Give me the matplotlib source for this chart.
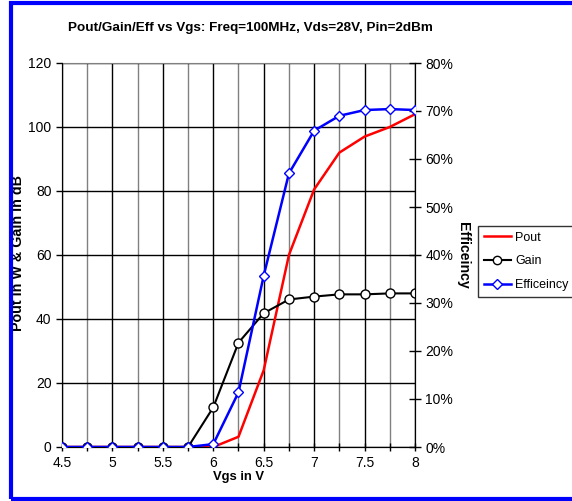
import numpy as np
import matplotlib.pyplot as plt
from matplotlib.patches import Rectangle
from matplotlib.lines import Line2D

plt.rcParams['font.family'] = ['Liberation Sans', 'DejaVu Sans']

vgs = [4.5, 4.75, 5.0, 5.25, 5.5, 5.75, 6.0, 6.25, 6.5, 6.75, 7.0, 7.25, 7.5, 7.75, 8.0]
pout = [0, 0, 0, 0, 0, 0, 0, 3.2, 24, 60, 80.5, 92, 97, 100, 104]
gain = [0, 0, 0, 0, 0, 0, 12.4, 32.6, 41.8, 46.1, 47.0, 47.7, 47.7, 48.0, 48.0]
eff = [0, 0, 0, 0, 0, 0, 0.006, 0.114, 0.357, 0.570, 0.659, 0.690, 0.702, 0.704, 0.702]

fig = plt.figure(figsize=(5.72, 5.01), dpi=100)
ax = fig.add_axes([62/572, 1-447/501, (415-62)/572, (447-63)/501])

ax.plot(vgs, pout, color='red', lw=1.8, label='Pout', zorder=3)
ax.plot(vgs, gain, color='black', lw=1.5, marker='o', ms=6.5, mfc='white', mec='black',
        mew=1.0, label='Gain', zorder=4)

ax.set_xlim(4.5, 8)
ax.set_ylim(0, 120)
ax.set_xticks(np.arange(4.5, 8.01, 0.5))
ax.set_xticklabels(['4.5', '5', '5.5', '6', '6.5', '7', '7.5', '8'])
ax.set_xticks(np.arange(4.5, 8.01, 0.25), minor=True)
ax.set_yticks(np.arange(0, 121, 20))
ax.grid(axis='y', color='black', lw=1.0)
ax.grid(axis='x', which='major', color='black', lw=1.0)
ax.grid(axis='x', which='minor', color='#808080', lw=1.0)
ax.tick_params(axis='both', which='both', labelsize=10, length=4, width=1, color='black')
ax.tick_params(axis='x', which='both', direction='inout', length=6)
ax.spines['top'].set_color('#808080')
ax.spines['left'].set_color('#555555')
ax.spines['bottom'].set_color('black')
ax.set_xlabel('Vgs in V', fontsize=9.4, fontweight='bold', labelpad=1)
ax.set_ylabel('Pout in W & Gain in dB', fontsize=10.3, fontweight='bold')
ax.yaxis.set_label_coords((25-62)/353, 1-(253-63)/384)

ax2 = ax.twinx()
ax2.plot(vgs, eff, color='blue', lw=1.8, marker='D', ms=5, mfc='white', mec='blue',
         mew=1.0, label='Efficeincy', zorder=5)
ax2.set_ylim(0, 0.8)
ax2.set_yticks(np.arange(0, 0.81, 0.1))
ax2.set_yticklabels([f'{int(round(v*100))}%' for v in np.arange(0, 0.81, 0.1)])
ax2.tick_params(axis='y', direction='inout', length=8, width=1, labelsize=10)
ax2.spines['right'].set_color('black')
ax2.spines['top'].set_visible(False)
ax2.set_ylabel('Efficeincy', fontsize=10.2, fontweight='bold', rotation=-90, va='center')
ax2.yaxis.set_label_coords((463-62)/353, 1-(255-63)/384)

fig.text(250/572, 1-28/501, 'Pout/Gain/Eff vs Vgs: Freq=100MHz, Vds=28V, Pin=2dBm',
         ha='center', va='center', fontsize=9.7, fontweight='bold')

handles = [Line2D([], [], color='red', lw=1.8),
           Line2D([], [], color='black', lw=1.5, marker='o', ms=6, mfc='white', mec='black'),
           Line2D([], [], color='blue', lw=1.8, marker='D', ms=5, mfc='white', mec='blue')]
leg = fig.legend(handles, ['Pout', 'Gain', 'Efficeincy'], loc='upper left',
                 bbox_to_anchor=(478/572, 1-226/501), frameon=True, fancybox=False,
                 fontsize=9, handlelength=2.2, handletextpad=0.3, borderpad=0.45,
                 labelspacing=0.95, borderaxespad=0)
leg.get_frame().set_edgecolor('black')
leg.get_frame().set_linewidth(1.0)

fig.patches.append(Rectangle((11/572, 2/501), 1.0, 496/501, transform=fig.transFigure,
                             fill=False, edgecolor='blue', lw=3, figure=fig))

fig.savefig('out.png', dpi=100)
